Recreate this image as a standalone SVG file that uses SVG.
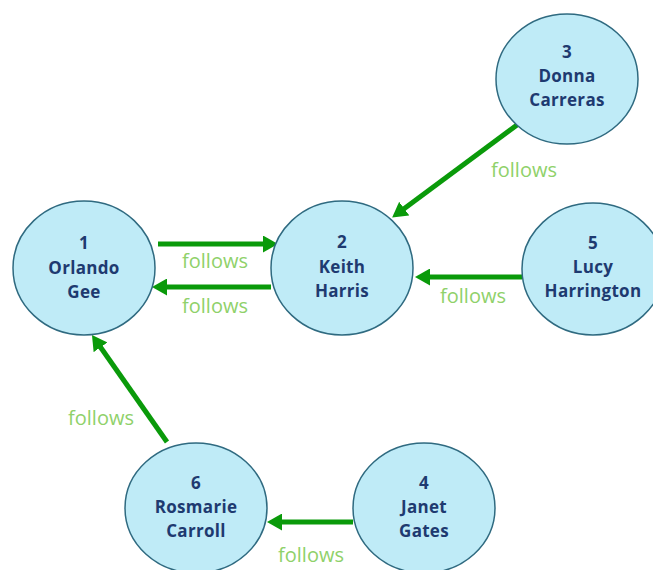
<svg xmlns="http://www.w3.org/2000/svg" width="653" height="570" viewBox="0 0 653 570">
  <defs>
    <marker id="arrow" markerUnits="userSpaceOnUse" viewBox="0 0 15 17" markerWidth="15" markerHeight="17" refX="4" refY="8.5" orient="auto">
      <path d="M0,0 L15,8.5 L0,17 z" fill="#0a9a0a"/>
    </marker>
    <style>
      .node ellipse { fill: #bfebf7; stroke: #2f6a80; stroke-width: 1.5; }
      .node text { font-family: "Open Sans", "Noto Sans", sans-serif; font-weight: bold; font-size: 17px; letter-spacing: 0.3px; fill: #1e3a70; text-anchor: middle; }
      .edge line { stroke: #0a9a0a; stroke-width: 5; marker-end: url(#arrow); }
      .edge text { font-family: "Open Sans", "Noto Sans", sans-serif; font-size: 20px; fill: #8fd16a; text-anchor: middle; }
    </style>
  </defs>
  <rect width="653" height="570" fill="#ffffff"/>

  <g id="connectors">
    <g class="edge" id="e1-2">
      <line x1="158" y1="244" x2="267" y2="244"/>
      <text x="215" y="268">follows</text>
    </g>
    <g class="edge" id="e2-1">
      <line x1="271" y1="287" x2="163" y2="287"/>
      <text x="215" y="313">follows</text>
    </g>
    <g class="edge" id="e3-2">
      <line x1="517" y1="125" x2="401" y2="211"/>
      <text x="524" y="177">follows</text>
    </g>
    <g class="edge" id="e5-2">
      <line x1="522" y1="277" x2="426" y2="277"/>
      <text x="473" y="303">follows</text>
    </g>
    <g class="edge" id="e6-1">
      <line x1="167" y1="442" x2="98.3" y2="344"/>
      <text x="101" y="425">follows</text>
    </g>
    <g class="edge" id="e4-6">
      <line x1="353" y1="522" x2="278" y2="522"/>
      <text x="311" y="562">follows</text>
    </g>
  </g>

  <g class="node" id="node1">
    <ellipse cx="84" cy="268" rx="71" ry="67"/>
    <text x="84" y="249">1</text>
    <text x="84" y="274">Orlando</text>
    <text x="84" y="298">Gee</text>
  </g>
  <g class="node" id="node2">
    <ellipse cx="342" cy="268" rx="71" ry="67"/>
    <text x="342" y="248">2</text>
    <text x="342" y="273">Keith</text>
    <text x="342" y="297">Harris</text>
  </g>
  <g class="node" id="node3">
    <ellipse cx="567" cy="79" rx="71" ry="65"/>
    <text x="567" y="58">3</text>
    <text x="567" y="82">Donna</text>
    <text x="567" y="106">Carreras</text>
  </g>
  <g class="node" id="node5">
    <ellipse cx="593" cy="269" rx="71" ry="66"/>
    <text x="593" y="249">5</text>
    <text x="593" y="273">Lucy</text>
    <text x="593" y="297">Harrington</text>
  </g>
  <g class="node" id="node6">
    <ellipse cx="196" cy="508" rx="71" ry="65"/>
    <text x="196" y="489">6</text>
    <text x="196" y="513">Rosmarie</text>
    <text x="196" y="537">Carroll</text>
  </g>
  <g class="node" id="node4">
    <ellipse cx="424" cy="508" rx="71" ry="65"/>
    <text x="424" y="489">4</text>
    <text x="424" y="513">Janet</text>
    <text x="424" y="537">Gates</text>
  </g>
</svg>
